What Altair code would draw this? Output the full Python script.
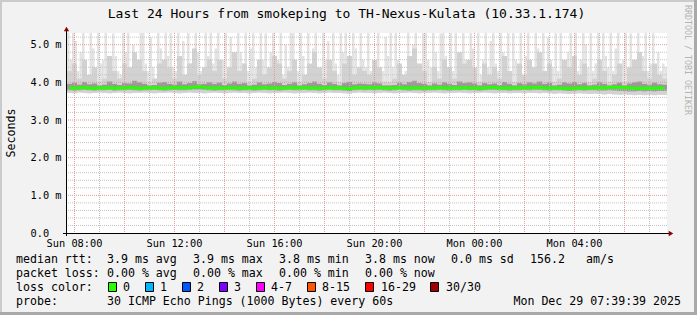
import altair as alt
import pandas as pd

# ---------------- data ----------------
# time axis: hours since Sunday 00:00, plot spans 24 h
t_start = 7.72
col_hours = 0.2      # 120 columns for the smoke body and the median
spike_hours = 0.1    # 240 columns for the tallest pings

spike_top = [5.4, 4.6, 5.4, 5.1, 4.3, 4.8, 5.4, 4.4, 4.2, 5.4,
             4.9, 4.3, 5.4, 4.5, 4.6, 5.4, 4.2, 4.4, 5.3, 4.7,
             4.3, 4.2, 5.4, 4.8, 5.4, 4.4, 5.0, 4.3, 4.6, 5.4,
             5.4, 4.5, 4.3, 5.2, 4.4, 4.1, 5.4, 4.9, 4.3, 5.4,
             4.7, 5.4, 4.4, 4.3, 5.4, 4.6, 5.1, 4.2, 5.4, 4.5,
             4.4, 5.4, 4.8, 4.3, 4.2, 5.4, 4.7, 5.4, 4.5, 4.9,
             5.4, 4.3, 4.6, 5.4, 4.4, 5.2, 4.3, 4.1, 5.4, 4.8,
             4.5, 5.4, 4.3, 4.9, 5.4, 4.4, 4.2, 5.4, 4.6, 5.3,
             4.3, 4.8, 5.4, 4.4, 4.6, 5.4, 4.2, 5.0, 4.4, 5.4,
             5.4, 4.5, 4.3, 5.4, 4.7, 4.2, 5.4, 4.4, 4.9, 5.4,
             4.4, 4.3, 5.4, 4.6, 5.1, 4.3, 5.4, 4.5, 4.2, 5.4,
             4.8, 5.4, 4.4, 4.3, 5.4, 4.9, 4.2, 5.4, 4.6, 4.4,
             5.4, 4.3, 4.2, 4.5, 5.4, 4.4, 4.3, 5.2, 4.7, 5.4,
             4.4, 5.4, 4.6, 4.3, 4.2, 4.3, 5.4, 4.4, 5.0, 5.4,
             4.5, 4.3, 5.4, 5.4, 4.6, 4.4, 5.4, 4.8, 4.3, 5.3,
             5.4, 4.7, 4.4, 5.4, 4.3, 5.4, 4.5, 4.2, 5.4, 4.6,
             4.3, 5.4, 4.9, 4.4, 5.4, 4.2, 4.6, 5.4, 4.4, 5.1,
             5.4, 4.5, 4.3, 5.4, 4.8, 4.4, 5.4, 4.3, 5.4, 4.6,
             4.4, 5.4, 4.2, 4.7, 5.4, 4.5, 4.3, 5.4, 4.9, 4.4,
             5.4, 4.3, 5.2, 4.6, 4.4, 5.4, 4.3, 5.4, 4.5, 4.2,
             4.8, 5.4, 4.4, 5.4, 4.3, 4.6, 5.4, 5.0, 4.4, 5.4,
             4.3, 4.5, 5.4, 4.2, 5.4, 4.7, 4.4, 5.4, 4.3, 4.9,
             5.4, 4.4, 4.6, 5.4, 4.3, 5.3, 4.5, 4.2, 5.4, 4.4,
             4.7, 5.4, 4.3, 4.5, 5.4, 4.4, 4.8, 4.3, 4.5, 4.4]

smoke_p90 = [4.3, 4.5, 4.1, 4.6, 4.2, 4.4, 4.0, 4.1, 4.7, 4.3, 4.1, 4.5, 4.4, 4.8, 4.6, 4.3, 4.0, 4.1, 4.5, 4.6, 4.4, 4.1, 4.7, 4.2, 4.5, 4.9, 4.2, 4.4, 4.6, 4.3,
             4.6, 4.1, 4.4, 4.8, 4.3, 4.5, 4.0, 4.1, 4.6, 4.2, 4.4, 4.7, 4.5, 4.1, 4.3, 4.6, 4.0, 4.2, 4.5, 4.8, 4.4, 4.1, 4.6, 4.3, 4.0, 4.5, 4.7, 4.2, 4.4, 4.3,
             4.2, 4.6, 4.4, 4.0, 4.0, 4.1, 4.5, 4.2, 4.7, 4.9, 4.5, 4.3, 4.0, 4.4, 4.1, 4.6, 4.4, 4.1, 4.8, 4.5, 4.6, 4.4, 4.0, 4.5, 4.2, 4.4, 4.1, 4.7, 4.3, 4.0,
             4.5, 4.2, 4.6, 4.4, 4.8, 4.3, 4.5, 4.0, 4.1, 4.6, 4.4, 4.7, 4.2, 4.5, 4.0, 4.1, 4.6, 4.3, 4.0, 4.2, 4.5, 4.0, 4.4, 4.6, 4.8, 4.3, 4.1, 4.5, 4.2, 4.1]

smoke_p75 = [3.96, 3.99, 3.94, 4.01, 3.95, 3.97, 3.92, 3.94, 4.02, 3.96, 3.93, 3.98, 3.97, 4.04, 4.00, 3.96, 3.92, 3.93, 3.99, 4.01, 3.96, 3.94, 4.02, 3.95, 3.98, 4.03, 3.95, 3.96, 4.00, 3.96,
             3.99, 3.93, 3.97, 4.02, 3.96, 3.98, 3.92, 3.94, 4.00, 3.95, 3.97, 4.01, 3.98, 3.93, 3.96, 4.00, 3.92, 3.95, 3.98, 4.02, 3.96, 3.93, 4.00, 3.96, 3.92, 3.98, 4.01, 3.95, 3.97, 3.96,
             3.95, 4.00, 3.97, 3.92, 3.92, 3.93, 3.99, 3.95, 4.01, 4.04, 3.98, 3.96, 3.92, 3.97, 3.94, 4.00, 3.96, 3.93, 4.02, 3.98, 4.00, 3.97, 3.92, 3.98, 3.95, 3.97, 3.93, 4.01, 3.96, 3.92,
             3.98, 3.95, 4.00, 3.97, 4.02, 3.96, 3.99, 3.92, 3.94, 4.00, 3.97, 4.01, 3.95, 3.98, 3.92, 3.94, 4.00, 3.96, 3.92, 3.95, 3.99, 3.92, 3.97, 4.00, 4.02, 3.96, 3.94, 3.99, 3.95, 3.94]

smoke_p25 = [3.79, 3.78, 3.79, 3.80, 3.79, 3.78, 3.79, 3.79, 3.80, 3.78, 3.79, 3.79, 3.80, 3.79, 3.78, 3.79, 3.79, 3.80, 3.79, 3.78, 3.79, 3.80, 3.79, 3.79, 3.80, 3.81, 3.81, 3.80, 3.79, 3.78,
             3.79, 3.79, 3.80, 3.79, 3.78, 3.79, 3.79, 3.78, 3.79, 3.80, 3.79, 3.79, 3.78, 3.79, 3.80, 3.79, 3.79, 3.80, 3.79, 3.79, 3.78, 3.79, 3.80, 3.79, 3.79, 3.78, 3.77, 3.79, 3.80, 3.79,
             3.80, 3.79, 3.80, 3.79, 3.78, 3.79, 3.80, 3.79, 3.78, 3.79, 3.79, 3.78, 3.79, 3.79, 3.80, 3.79, 3.78, 3.79, 3.79, 3.80, 3.79, 3.79, 3.78, 3.79, 3.80, 3.80, 3.79, 3.79, 3.78, 3.79,
             3.79, 3.80, 3.79, 3.80, 3.80, 3.79, 3.78, 3.79, 3.79, 3.78, 3.77, 3.78, 3.79, 3.78, 3.79, 3.79, 3.78, 3.78, 3.79, 3.78, 3.77, 3.77, 3.76, 3.76, 3.77, 3.76, 3.77, 3.76, 3.77, 3.77]

smoke_min = [3.72, 3.71, 3.73, 3.72, 3.71, 3.72, 3.73, 3.72, 3.71, 3.72, 3.73, 3.72, 3.71, 3.72, 3.72, 3.73, 3.72, 3.71, 3.72, 3.72, 3.73, 3.72, 3.71, 3.72, 3.73, 3.72, 3.72, 3.71, 3.72, 3.73,
             3.72, 3.71, 3.72, 3.73, 3.72, 3.72, 3.71, 3.72, 3.73, 3.72, 3.71, 3.72, 3.72, 3.73, 3.72, 3.71, 3.72, 3.72, 3.73, 3.72, 3.71, 3.72, 3.73, 3.72, 3.72, 3.71, 3.70, 3.72, 3.73, 3.72,
             3.72, 3.71, 3.72, 3.73, 3.72, 3.71, 3.72, 3.72, 3.73, 3.72, 3.71, 3.72, 3.72, 3.73, 3.72, 3.71, 3.72, 3.72, 3.73, 3.72, 3.71, 3.72, 3.72, 3.73, 3.72, 3.71, 3.72, 3.72, 3.71, 3.72,
             3.72, 3.71, 3.72, 3.72, 3.71, 3.72, 3.71, 3.70, 3.71, 3.70, 3.69, 3.70, 3.71, 3.70, 3.69, 3.70, 3.69, 3.68, 3.69, 3.68, 3.67, 3.68, 3.67, 3.66, 3.67, 3.66, 3.67, 3.66, 3.67, 3.67]

median_rtt = [3.85, 3.84, 3.85, 3.86, 3.85, 3.84, 3.85, 3.85, 3.86, 3.84, 3.85, 3.85, 3.86, 3.85, 3.84, 3.85, 3.85, 3.86, 3.85, 3.84, 3.85, 3.86, 3.85, 3.85, 3.86, 3.87, 3.88, 3.86, 3.85, 3.84,
              3.85, 3.85, 3.86, 3.85, 3.84, 3.85, 3.85, 3.84, 3.85, 3.86, 3.85, 3.85, 3.84, 3.85, 3.86, 3.85, 3.85, 3.86, 3.85, 3.85, 3.84, 3.85, 3.86, 3.85, 3.85, 3.84, 3.83, 3.85, 3.86, 3.85,
              3.86, 3.85, 3.86, 3.85, 3.84, 3.85, 3.86, 3.85, 3.84, 3.85, 3.85, 3.84, 3.85, 3.85, 3.86, 3.85, 3.84, 3.85, 3.85, 3.86, 3.85, 3.85, 3.84, 3.85, 3.86, 3.86, 3.85, 3.85, 3.84, 3.85,
              3.85, 3.86, 3.85, 3.86, 3.87, 3.85, 3.84, 3.85, 3.85, 3.84, 3.83, 3.84, 3.85, 3.84, 3.85, 3.86, 3.85, 3.85, 3.87, 3.87, 3.86, 3.86, 3.85, 3.84, 3.85, 3.84, 3.85, 3.84, 3.85, 3.85]

# axis ticks / grid
x_label_hours = [8, 12, 16, 20, 24, 28]
x_major_grid = [8, 10, 12, 14, 16, 18, 20, 22, 24, 26, 28, 30]
x_minor_grid = [9, 11, 13, 15, 17, 19, 21, 23, 25, 27, 29, 31]
y_label_values = [0, 1, 2, 3, 4, 5]
y_major_grid = [1, 2, 3, 4, 5]
y_minor_grid = [0.2, 0.4, 0.6, 0.8, 1.2, 1.4, 1.6, 1.8, 2.2, 2.4, 2.6, 2.8,
                3.2, 3.4, 3.6, 3.8, 4.2, 4.4, 4.6, 4.8, 5.2]

# texts
title_text = "Last 24 Hours from smokeping to TH-Nexus-Kulata (10.33.1.174)"
y_title = "Seconds"
credit_text = "RRDTOOL / TOBI OETIKER"
row_median = ["median rtt:", "3.9 ms avg", "3.9 ms max", "3.8 ms min", "3.8 ms now", "0.0 ms sd", "156.2", "am/s"]
row_loss = ["packet loss:", "0.00 % avg", "0.00 % max", "0.00 % min", "0.00 % now"]
row_color_head = "loss color:"
loss_labels = ["0", "1", "2", "3", "4-7", "8-15", "16-29", "30/30"]
loss_colors = ["#26ff00", "#00b8ff", "#0059ff", "#7e00ff", "#ff00ff", "#ff5500", "#ff0000", "#a10000"]
row_probe = ["probe:", "30 ICMP Echo Pings (1000 Bytes) every 60s", "Mon Dec 29 07:39:39 2025"]

# ---------------- layout (pixels) ----------------
PAD_L, PAD_T, PAD_R, PAD_B = 67, 33, 30, 82
W, H = 600, 200
MONO = "DejaVu Sans Mono"
row_median_x = [16, 107, 193, 279, 365, 451, 530, 586]
row_loss_x = [16, 107, 193, 279, 365]
box_x = [108.5, 145.5, 182.5, 219.5, 256.5, 307.5, 365.5, 430.5]
loss_label_x = [123, 160, 197, 234, 271, 322, 381, 446]
row_probe_x = [16, 107, 513]
row_base_y = [262.5, 276.5, 290.5, 304.5]

times = [t_start + col_hours * i for i in range(len(median_rtt))]
df = pd.DataFrame({
    "t0": times,
    "t1": [t + col_hours for t in times],
    "tm": [t + col_hours / 2 for t in times],
    "smoke_p90": smoke_p90,
    "smoke_p75": smoke_p75,
    "smoke_p25": smoke_p25,
    "smoke_min": smoke_min,
    "median": median_rtt,
})
spike_times = [t_start + spike_hours * i for i in range(len(spike_top))]
df_spikes = pd.DataFrame({
    "t0": spike_times,
    "t1": [t + spike_hours for t in spike_times],
    "base": [smoke_min[i // 2] for i in range(len(spike_top))],
    "top": spike_top,
})

x_scale = alt.Scale(domain=[t_start, t_start + 24], nice=False, zero=False)
y_scale = alt.Scale(domain=[0, 5.31], nice=False, zero=False)

x_axis = alt.Axis(values=x_label_hours, grid=False, ticks=False, tickSize=0, domain=False,
                  labelExpr="(datum.value < 24 ? 'Sun ' : 'Mon ') + (datum.value % 24 < 10 ? '0' : '') + (datum.value % 24) + ':00'",
                  labelFont=MONO, labelFontSize=10.3, labelColor="#000000", labelBaseline="alphabetic",
                  labelPadding=13, labelFlush=False, labelOverlap=False, title=None)
y_axis = alt.Axis(values=y_label_values, grid=False, ticks=False, tickSize=0, domain=False,
                  labelExpr="datum.value == 0 ? '0.0' : format(datum.value, '.1f') + ' m'",
                  labelFont=MONO, labelFontSize=10.3, labelColor="#000000", labelAlign="left",
                  labelBaseline="middle", labelPadding=37, labelFlush=False, labelOverlap=False, title=None)

def X(field):
    return alt.X(field, scale=x_scale, axis=x_axis)

def Y(field):
    return alt.Y(field, scale=y_scale, axis=y_axis)

base = alt.Chart(df)

smoke_light = alt.Chart(df_spikes).mark_rect(clip=True, color="#e3e3e3").encode(
    x=X("t0:Q"), x2="t1:Q", y=Y("base:Q"), y2="top:Q")
smoke_mid = base.mark_rect(clip=True, color="#d2d2d2").encode(
    x=X("t0:Q"), x2="t1:Q", y=Y("smoke_min:Q"), y2="smoke_p90:Q")
smoke_dark = base.mark_rect(clip=True, color="#9a9a9a").encode(
    x=X("t0:Q"), x2="t1:Q", y=Y("smoke_p25:Q"), y2="smoke_p75:Q")

def vgrid(vals, color):
    return alt.Chart(pd.DataFrame({"h": vals})).mark_rule(
        color=color, strokeWidth=1, strokeDash=[1, 1], xOffset=0.5).encode(x=X("h:Q"))

def hgrid(vals, color):
    return alt.Chart(pd.DataFrame({"v": vals})).mark_rule(
        color=color, strokeWidth=1, strokeDash=[1, 1]).encode(y=Y("v:Q"))

median_line = base.mark_line(color="#26ff00", strokeWidth=3, clip=True).encode(
    x=X("tm:Q"), y=Y("median:Q"))

one = pd.DataFrame({"k": [0]})

def deco_rect(x0, x1, y0, y1, color, stroke=None):
    kw = dict(color=color)
    if stroke:
        kw = dict(fill=color, stroke=stroke, strokeWidth=1)
    return alt.Chart(one).mark_rect(**kw).encode(
        x=alt.value(x0 - PAD_L), x2=alt.value(x1 - PAD_L),
        y=alt.value(y0 - PAD_T), y2=alt.value(y1 - PAD_T))

def deco_text(s, x, y, size=11.6, align="left", baseline="alphabetic", angle=0, color="#000000"):
    kw = dict(font=MONO, fontSize=size, align=align, baseline=baseline, color=color)
    if angle:
        kw["angle"] = angle
    return alt.Chart(pd.DataFrame({"s": [s]})).mark_text(**kw).encode(
        text="s:N", x=alt.value(x - PAD_L), y=alt.value(y - PAD_T))

axis_y_line = alt.Chart(one).mark_rule(color="#000000", strokeWidth=1).encode(
    x=alt.value(66.5 - PAD_L), y=alt.value(30 - PAD_T), y2=alt.value(236 - PAD_T))
axis_x_line = alt.Chart(one).mark_rule(color="#000000", strokeWidth=1).encode(
    x=alt.value(63 - PAD_L), x2=alt.value(670 - PAD_L), y=alt.value(233.5 - PAD_T))
arrow_up = alt.Chart(one).mark_point(shape="triangle-up", filled=True, size=28, color="#8b0000", opacity=1).encode(
    x=alt.value(66.5 - PAD_L), y=alt.value(29 - PAD_T))
arrow_right = alt.Chart(one).mark_point(shape="triangle-right", filled=True, size=28, color="#8b0000", opacity=1).encode(
    x=alt.value(671 - PAD_L), y=alt.value(233.5 - PAD_T))

layers = [smoke_light, smoke_mid, smoke_dark,
          vgrid(x_minor_grid, "#bdbdbd"), hgrid(y_minor_grid, "#c4c4c4"),
          vgrid(x_major_grid, "#e39a9a"), hgrid(y_major_grid, "#e39a9a"),
          median_line, axis_y_line, axis_x_line, arrow_up, arrow_right]

# frame
layers += [deco_rect(0, 697, 0, 2, "#cbcbcb"), deco_rect(0, 2, 0, 315, "#cbcbcb"),
           deco_rect(0, 697, 312, 315, "#a9a9a9"), deco_rect(694, 697, 0, 315, "#a9a9a9")]

# titles
layers.append(deco_text(title_text, 346.5, 18, size=13, align="center"))
layers.append(deco_text(y_title, 15, 133, size=11.6, align="center", angle=270))
layers.append(deco_text(credit_text, 685, 60, size=8.3, align="center", angle=90, color="#b4b4b4"))

# legend rows
for s, x in zip(row_median, row_median_x):
    layers.append(deco_text(s, x, row_base_y[0]))
for s, x in zip(row_loss, row_loss_x):
    layers.append(deco_text(s, x, row_base_y[1]))
layers.append(deco_text(row_color_head, 16, row_base_y[2]))
for lab, col, bx, lx in zip(loss_labels, loss_colors, box_x, loss_label_x):
    layers.append(deco_rect(bx, bx + 8, 282.5, 291.5, col, stroke="#000000"))
    layers.append(deco_text(lab, lx, row_base_y[2]))
layers.append(deco_text(row_probe[0], row_probe_x[0], row_base_y[3]))
layers.append(deco_text(row_probe[1], row_probe_x[1], row_base_y[3]))
layers.append(deco_text(row_probe[2], 681, row_base_y[3], align="right"))

chart = alt.layer(*layers).properties(
    width=W, height=H,
    padding={"left": PAD_L, "top": PAD_T, "right": PAD_R, "bottom": PAD_B},
    autosize=alt.AutoSizeParams(type="none"),
    background="#f2f2f2",
).configure_view(fill="#ffffff", stroke=None)

chart.save("out.html", embed_options={"renderer": "svg", "actions": False})
